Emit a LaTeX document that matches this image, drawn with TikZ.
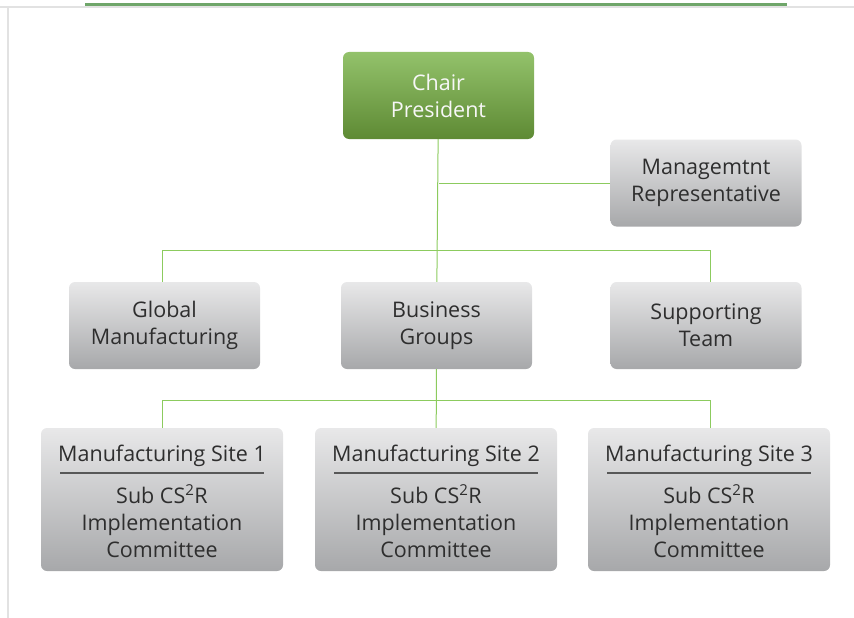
\documentclass[tikz,border=0pt]{standalone}
\usepackage{fontspec}
\setmainfont{Open Sans}
\usepackage{tikz}
\definecolor{linkgreen}{HTML}{8CCB5E}
\definecolor{bargreen}{HTML}{6FA66A}
\definecolor{framegray}{HTML}{E2E2E2}
\definecolor{chairtop}{HTML}{93C26B}
\definecolor{chairbot}{HTML}{5E8A34}
\definecolor{boxtop}{HTML}{E8E8E9}
\definecolor{boxbot}{HTML}{A7A8AA}
\definecolor{boxtext}{HTML}{2E2E2E}
\tikzset{orgbox/.style={rectangle, rounded corners=6pt, minimum width=191pt, minimum height=87pt,
    top color=boxtop, bottom color=boxbot, text=boxtext, align=center,
    font=\fontsize{21.5}{27}\selectfont, inner sep=0pt},
  chairbox/.style={orgbox, top color=chairtop, bottom color=chairbot, text=white!94!gray},
  sitebox/.style={orgbox, minimum width=242pt, minimum height=143pt},
  sitetext/.style={text=boxtext, align=center, font=\fontsize{21.5}{27}\selectfont, inner sep=0pt},
  link/.style={draw=linkgreen, line width=1pt}}

\begin{document}
\begin{tikzpicture}[x=1pt, y=-1pt]
            \useasboundingbox (0,0) rectangle (854,618);
            % page frame
            \draw[framegray, line width=1.5pt] (0,7) -- (854,7);
            \draw[framegray, line width=1.5pt] (8,7) -- (8,618);
            \draw[bargreen, line width=3pt] (85,4.5) -- (787,4.5);

            \node[chairbox] (chair) at (438.5,95.5) {Chair\\President};
            \node[orgbox] (mgmt) at (706,183) {Managemtnt\\Representative};
            \node[orgbox] (global) at (164.5,325.5) {Global\\Manufacturing};
            \node[orgbox] (groups) at (436.5,325.5) {Business\\Groups};
            \node[orgbox] (support) at (706,325.5) {Supporting\\Team};

            \foreach \i/\x in {1/162, 2/436, 3/709} {
                \node[sitebox] (site\i) at (\x,499.5) {};
                \node[sitetext] (title\i) at (\x,456) {Manufacturing Site \i};
                \draw[boxtext!80, line width=1.5pt] (\x-102,473) -- (\x+102,473);
                \node[sitetext] (body\i) at (\x,521) {Sub CS\textsuperscript{2}R\\Implementation\\Committee};
            }

            % connectors
            \coordinate (mid) at (chair |- mgmt);
            \coordinate (leftdrop) at (162,250);
            \coordinate (rightdrop) at (710,250);
            \coordinate (leftlow) at (162,400);
            \coordinate (rightlow) at (710,400);
            \draw[link] (chair) -- (groups);
            \draw[link] (mid) -- (mgmt.west);
            \draw[link] (leftdrop |- global.north) -- (leftdrop) -- (rightdrop) -- (rightdrop |- support.north);
            \draw[link] (groups) -- (site2);
            \draw[link] (leftlow |- site1.north) -- (leftlow) -- (rightlow) -- (rightlow |- site3.north);
\end{tikzpicture}
\end{document}
